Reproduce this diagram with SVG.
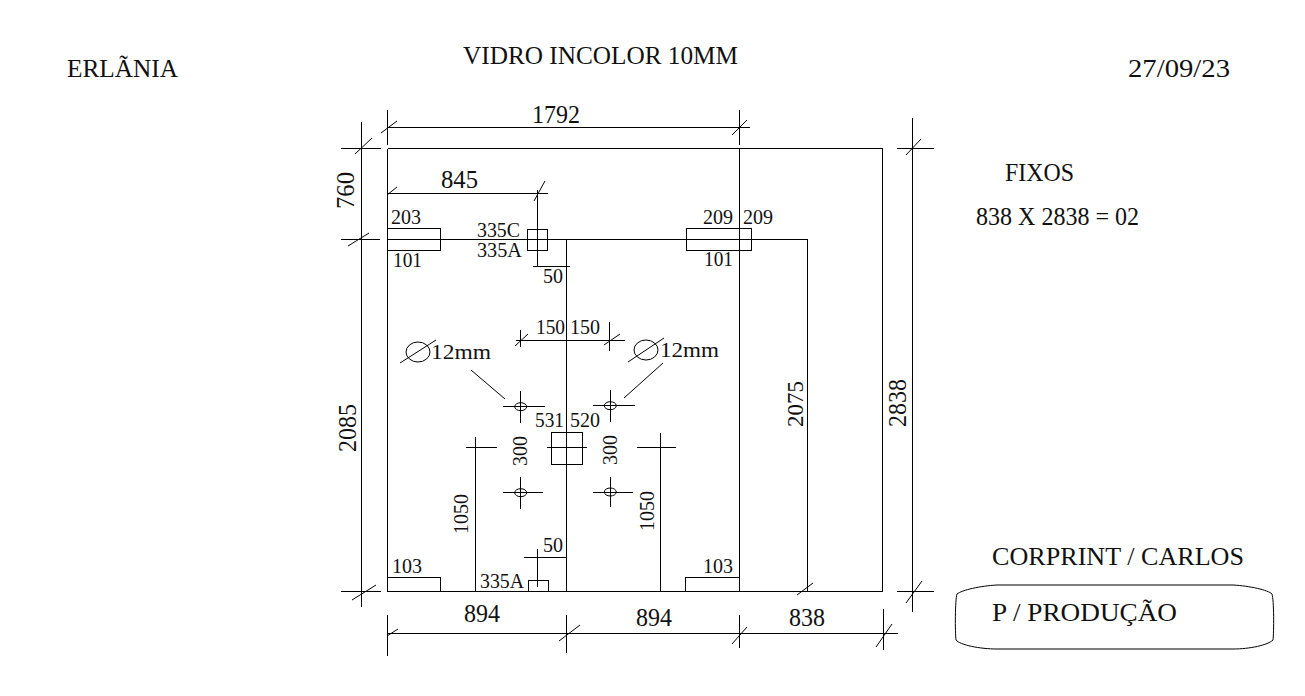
<svg xmlns="http://www.w3.org/2000/svg" width="1305" height="696" viewBox="0 0 1305 696">
<style>
text{font-family:"Liberation Serif","Times New Roman",serif;fill:#111;font-size:26px}
.s{font-size:20px}
line,path,rect,ellipse,polyline{fill:none;stroke:#000;stroke-width:1}
.c{shape-rendering:crispEdges}
</style>
<rect width="1305" height="696" style="fill:#fff;stroke:none"/>
<g id="outline" class="c">
<polyline points="387.5,148.5 882.5,148.5 882.5,591.5 387.5,591.5 387.5,148.5"/>
<polyline points="387.5,239.5 807.5,239.5 807.5,591.5"/>
<line x1="739.5" y1="148" x2="739.5" y2="591"/>
<line x1="566.5" y1="239" x2="566.5" y2="591"/>
<line x1="475.5" y1="437" x2="475.5" y2="591"/>
<line x1="660.5" y1="433" x2="660.5" y2="591"/>
</g>
<g id="hardware" class="c">
<rect x="387.5" y="228.5" width="53" height="22"/>
<rect x="527.5" y="229.5" width="20" height="21"/>
<rect x="686.5" y="228.5" width="65" height="22"/>
<rect x="551.5" y="432.5" width="31" height="32"/>
<rect x="387.5" y="577.5" width="53" height="14"/>
<rect x="528.5" y="580.5" width="20" height="11"/>
<rect x="685.5" y="577.5" width="54" height="14"/>
</g>
<g id="holes">
<ellipse cx="520.7" cy="406.7" rx="6" ry="4"/>
<path class="c" d="M503 406.5H545M520.5 391V423"/>
<ellipse cx="610.3" cy="405.7" rx="6" ry="4"/>
<path class="c" d="M593 405.5H635M610.5 390V422"/>
<ellipse cx="520.7" cy="492.7" rx="6" ry="4"/>
<path class="c" d="M503 492.5H543M520.5 477V509"/>
<ellipse cx="610.3" cy="492" rx="6" ry="4"/>
<path class="c" d="M593 492.5H633M610.5 477V507"/>
<path class="c" d="M547 447.5H587M466 447.5H497M637 447.5H676"/>
<ellipse cx="418" cy="352" rx="12" ry="10"/>
<line x1="400" y1="363" x2="436" y2="340"/>
<ellipse cx="646" cy="350" rx="12" ry="10"/>
<line x1="628" y1="362" x2="664" y2="338"/>
<line x1="471" y1="370" x2="505" y2="399"/>
<line x1="663" y1="363" x2="624" y2="398"/>
</g>
<g id="dimensions">
<path class="c" d="M387 127.5H750M387.5 110V145M739.5 110V145"/>
<path class="c" d="M361.5 122V607M341 148.5H381M341 239.5H380M341 591.5H381"/>
<path class="c" d="M387 193.5H548M537.5 190V266M533 266.5H570"/>
<path class="c" d="M912.5 118V612M897 148.5H934M897 591.5H934"/>
<path class="c" d="M387 633.5H898M387.5 615V656M566.5 615V653M739.5 615V648M883.5 609V650"/>
<path class="c" d="M516 340.5H625M520.5 330V347M609.5 322V351"/>
<path class="c" d="M537.5 549V587M524 557.5H567"/>
<g id="ticks">
<line x1="381" y1="133" x2="397" y2="121"/>
<line x1="732" y1="135" x2="747" y2="120"/>
<line x1="355" y1="154" x2="372" y2="138"/>
<line x1="348" y1="246" x2="369" y2="233"/>
<line x1="352" y1="600" x2="376" y2="585"/>
<line x1="387" y1="195" x2="397" y2="187"/>
<line x1="534" y1="201" x2="545" y2="181"/>
<line x1="906" y1="155" x2="921" y2="139"/>
<line x1="906" y1="603" x2="922" y2="581"/>
<line x1="387" y1="636" x2="398" y2="629"/>
<line x1="559" y1="641" x2="580" y2="625"/>
<line x1="732" y1="644" x2="747" y2="627"/>
<line x1="876" y1="647" x2="892" y2="624"/>
<line x1="797" y1="595" x2="813" y2="583"/>
<line x1="515" y1="346" x2="528" y2="334"/>
<line x1="604" y1="345" x2="620" y2="334"/>
</g>
</g>
<g id="stamp">
<path d="M997 585H1233C1250 586 1268 590 1272 594C1274 600 1274 632 1273 640C1268 645 1250 649 1233 649H997C980 649 960 645 956 640C955 632 955 600 957 594C962 590 980 586 997 585Z"/>
</g>
<g id="labels">
<text x="67" y="77" textLength="111" lengthAdjust="spacingAndGlyphs">ERLÃNIA</text>
<text x="463" y="64" textLength="275" lengthAdjust="spacingAndGlyphs">VIDRO INCOLOR 10MM</text>
<text x="1128" y="77" textLength="102" lengthAdjust="spacingAndGlyphs">27/09/23</text>
<text x="1005" y="181" textLength="69" lengthAdjust="spacingAndGlyphs">FIXOS</text>
<text x="976" y="225" textLength="163" lengthAdjust="spacingAndGlyphs">838 X 2838 = 02</text>
<text x="992" y="565" textLength="252" lengthAdjust="spacingAndGlyphs">CORPRINT / CARLOS</text>
<text x="992" y="621" textLength="185" lengthAdjust="spacingAndGlyphs">P / PRODUÇÃO</text>
<text x="532" y="123" textLength="48" lengthAdjust="spacingAndGlyphs">1792</text>
<text x="441" y="188" textLength="37" lengthAdjust="spacingAndGlyphs">845</text>
<text x="464" y="622" textLength="36" lengthAdjust="spacingAndGlyphs">894</text>
<text x="636" y="626" textLength="36" lengthAdjust="spacingAndGlyphs">894</text>
<text x="789" y="626" textLength="36" lengthAdjust="spacingAndGlyphs">838</text>
<text transform="translate(354 209) rotate(-90)" textLength="37" lengthAdjust="spacingAndGlyphs">760</text>
<text transform="translate(356 452) rotate(-90)" textLength="48" lengthAdjust="spacingAndGlyphs">2085</text>
<text transform="translate(803 427) rotate(-90)" style="font-size:23px" textLength="46" lengthAdjust="spacingAndGlyphs">2075</text>
<text transform="translate(906 427) rotate(-90)" textLength="48" lengthAdjust="spacingAndGlyphs">2838</text>
<text class="s" x="391" y="224" textLength="30" lengthAdjust="spacingAndGlyphs">203</text>
<text class="s" x="393" y="267" textLength="29" lengthAdjust="spacingAndGlyphs">101</text>
<text class="s" x="477" y="237" textLength="43" lengthAdjust="spacingAndGlyphs">335C</text>
<text class="s" x="477" y="257" textLength="45" lengthAdjust="spacingAndGlyphs">335A</text>
<text class="s" x="543" y="283" textLength="20" lengthAdjust="spacingAndGlyphs">50</text>
<text class="s" x="703" y="224" textLength="30" lengthAdjust="spacingAndGlyphs">209</text>
<text class="s" x="743" y="224" textLength="30" lengthAdjust="spacingAndGlyphs">209</text>
<text class="s" x="704" y="266" textLength="29" lengthAdjust="spacingAndGlyphs">101</text>
<text class="s" x="536" y="334" textLength="29" lengthAdjust="spacingAndGlyphs">150</text>
<text class="s" x="570" y="334" textLength="30" lengthAdjust="spacingAndGlyphs">150</text>
<text x="431" y="359" style="font-size:22px" textLength="60" lengthAdjust="spacingAndGlyphs">12mm</text>
<text x="660" y="357" style="font-size:22px" textLength="59" lengthAdjust="spacingAndGlyphs">12mm</text>
<text class="s" x="535" y="427" textLength="29" lengthAdjust="spacingAndGlyphs">531</text>
<text class="s" x="570" y="427" textLength="30" lengthAdjust="spacingAndGlyphs">520</text>
<text class="s" transform="translate(527 466) rotate(-90)" textLength="30" lengthAdjust="spacingAndGlyphs">300</text>
<text class="s" transform="translate(617 465) rotate(-90)" textLength="30" lengthAdjust="spacingAndGlyphs">300</text>
<text class="s" transform="translate(468 534) rotate(-90)" textLength="40" lengthAdjust="spacingAndGlyphs">1050</text>
<text class="s" transform="translate(654 531) rotate(-90)" textLength="40" lengthAdjust="spacingAndGlyphs">1050</text>
<text class="s" x="392" y="573" textLength="30" lengthAdjust="spacingAndGlyphs">103</text>
<text class="s" x="480" y="588" textLength="44" lengthAdjust="spacingAndGlyphs">335A</text>
<text class="s" x="543" y="552" textLength="20" lengthAdjust="spacingAndGlyphs">50</text>
<text class="s" x="703" y="573" textLength="30" lengthAdjust="spacingAndGlyphs">103</text>
</g>
</svg>
